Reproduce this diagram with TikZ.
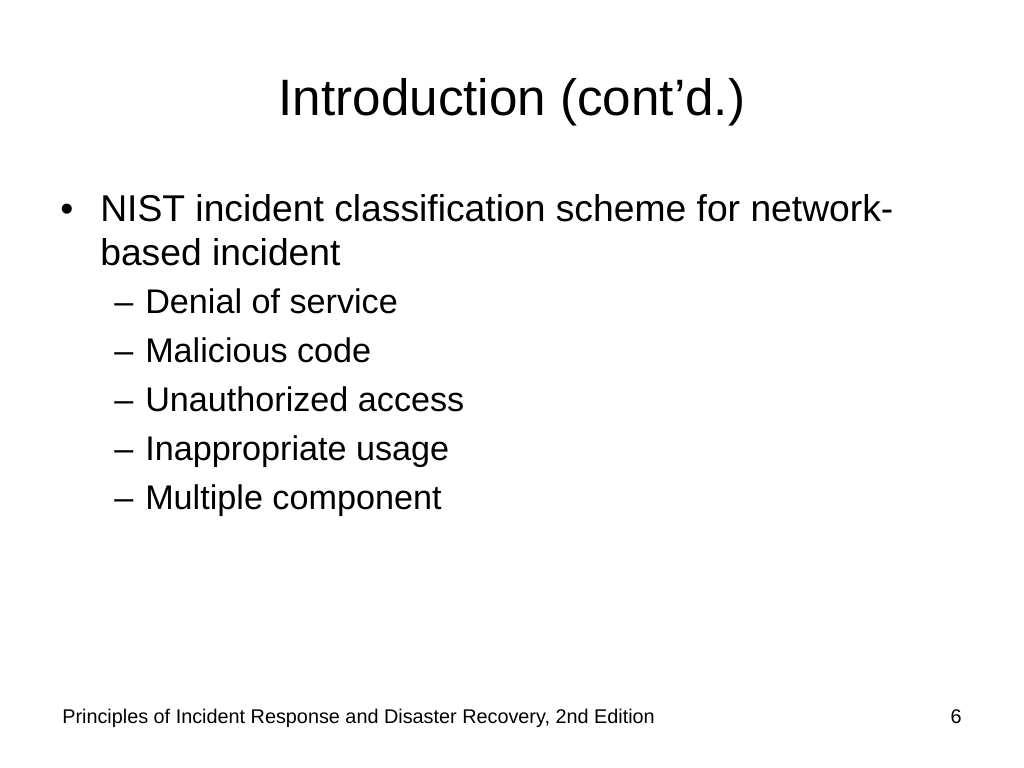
\documentclass[tikz,border=0pt]{standalone}
\usepackage{fontspec}
\setmainfont{Liberation Sans}
\usetikzlibrary{positioning}

\tikzset{
  titletext/.style={anchor=base, inner sep=0pt, font=\fontsize{36.4}{40}\selectfont},
  itemtext/.style={anchor=base west, inner sep=0pt, font=\fontsize{26.5}{30}\selectfont},
  subtext/.style={anchor=base west, inner sep=0pt, font=\fontsize{24.3}{28}\selectfont},
  foottext/.style={anchor=base west, inner sep=0pt, font=\fontsize{14.1}{17}\selectfont}
}

\begin{document}
\begin{tikzpicture}[x=0.025cm, y=-0.025cm]
  \useasboundingbox[fill=white] (0,0) rectangle (1024,768);
  \node[titletext] (title) at (512,116) {Introduction (cont’d.)};
  % first level
  \node[itemtext] (dot) at (60,221) {•};
  \node[itemtext] (nist) at (100,221) {NIST incident classification scheme for network-};
  \node[itemtext] (based) at (100,265) {based incident};
  % second level
  \foreach \txt [count=\i] in {Denial of service, Malicious code, Unauthorized access,
      Inappropriate usage, Multiple component} {
    \node[subtext] (dash\i) at (114,{264+49*\i}) {–};
    \node[subtext] (sub\i) at (145,{264+49*\i}) {\txt};
  }
  % footer
  \node[foottext] (foot) at (62,723) {Principles of Incident Response and Disaster Recovery, 2nd Edition};
  \node[foottext, anchor=base east] (page) at (962,723) {6};
\end{tikzpicture}
\end{document}
